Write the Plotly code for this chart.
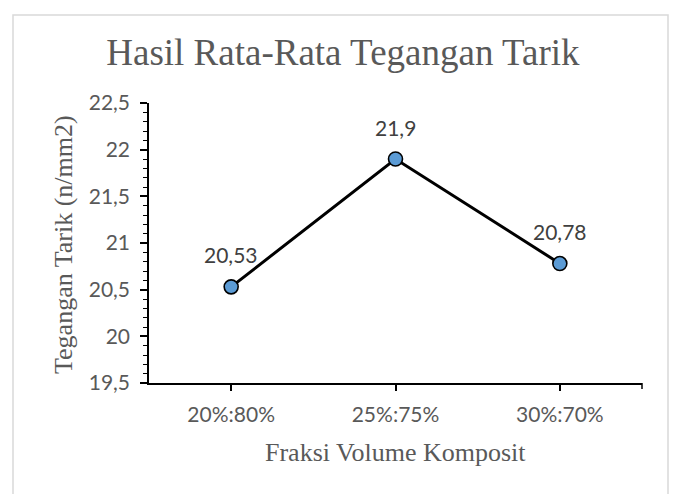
import plotly.graph_objects as go

categories = ["20%:80%", "25%:75%", "30%:70%"]
values = [20.53, 21.9, 20.78]
labels = ["20,53", "21,9", "20,78"]
y_tickvals = [19.5, 20, 20.5, 21, 21.5, 22, 22.5]
y_ticktext = ["19,5", "20", "20,5", "21", "21,5", "22", "22,5"]

GRAY = "#595959"
SANS = "Lato, Liberation Sans, sans-serif"
SERIF = "Liberation Serif, Times New Roman, serif"

fig = go.Figure()
fig.add_trace(go.Scatter(
    x=categories, y=values, mode="lines+markers",
    line=dict(color="black", width=3),
    marker=dict(size=14, color="#5B9BD5", line=dict(color="black", width=1.6)),
    cliponaxis=False, showlegend=False,
))

annotations = [
    dict(x=c, y=v, text=t, xref="x", yref="y", showarrow=False, yshift=32,
         xanchor="center", yanchor="middle",
         font=dict(family=SANS, size=21, color="#404040"))
    for c, v, t in zip(categories, values, labels)
]
annotations += [
    dict(text="Fraksi Volume Komposit", xref="paper", yref="paper", x=0.5,
         y=(383 - 452) / 280, xanchor="center", yanchor="middle", showarrow=False,
         font=dict(family=SERIF, size=26, color=GRAY)),
    dict(text="Tegangan Tarik (n/mm2)", xref="paper", yref="paper",
         x=(63 - 149) / 493, y=(383 - 245) / 280, xanchor="center", yanchor="middle",
         textangle=-90, showarrow=False, font=dict(family=SERIF, size=26, color=GRAY)),
]

fig.update_layout(
    width=675, height=494,
    margin=dict(l=149, r=33, t=103, b=111),
    paper_bgcolor="white", plot_bgcolor="white",
    title=dict(text="Hasil Rata-Rata Tegangan Tarik", xref="container", x=0.508,
               yref="container", y=1 - 52 / 494, xanchor="center", yanchor="middle",
               font=dict(family=SERIF, size=37, color=GRAY)),
    xaxis=dict(type="category", range=[-0.5, 2.5], showline=True, linecolor="black",
               linewidth=1.5, ticks="outside", ticklen=6, tickwidth=1.5, tickcolor="black",
               tickfont=dict(family=SANS, size=21, color=GRAY), showgrid=False,
               zeroline=False, ticklabelstandoff=6),
    yaxis=dict(range=[19.5, 22.5], tickvals=y_tickvals, ticktext=y_ticktext,
               showline=True, linecolor="black", linewidth=1.5, ticks="outside",
               ticklen=7, tickwidth=1.5, tickcolor="black",
               minor=dict(dtick=0.1, ticks="outside", ticklen=4, tickwidth=1.2, tickcolor="black"),
               tickfont=dict(family=SANS, size=21, color=GRAY), showgrid=False,
               zeroline=False, ticklabelstandoff=6),
    annotations=annotations,
    shapes=[
        dict(type="rect", xref="paper", yref="paper",
             x0=(13 - 149) / 493, x1=(668 - 149) / 493,
             y0=(383 - 520) / 280, y1=(383 - 15) / 280,
             line=dict(color="#D9D9D9", width=1.5), layer="below"),
        dict(type="line", xref="paper", yref="paper", x0=1, x1=1,
             ysizemode="pixel", yanchor=0, y0=0, y1=-6,
             line=dict(color="black", width=1.5)),
    ],
)

fig.write_html("out.html", config={"displayModeBar": False},
               post_script="document.body.style.margin='0';document.body.style.overflow='hidden';")
